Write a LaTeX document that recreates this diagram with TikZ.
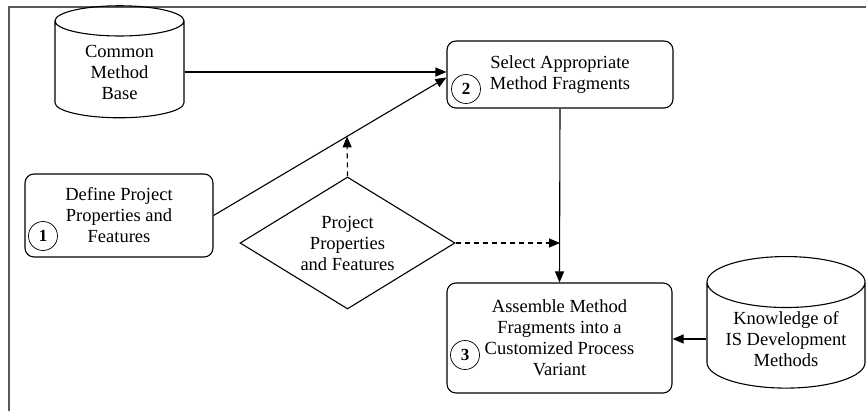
\documentclass[tikz,border=0pt]{standalone}
\usepackage{fontspec}
\setmainfont{Liberation Serif}
\usepackage{tikz}
\usetikzlibrary{positioning}
\usetikzlibrary{calc}
\usetikzlibrary{shapes.geometric}
\usetikzlibrary{arrows.meta}
\tikzset{%
  solidarrow/.style = {-{Triangle[length=11pt,width=9pt]},solid},
  dasharrow/.style = {-{Triangle[length=11pt,width=9pt]},dashed,
        dash pattern=on 5pt off 4pt},
  stepbox/.style = {rectangle,draw,rounded corners=9pt,align=center,
        minimum width=226pt,minimum height=67pt},
  db/.style = {cylinder,draw,shape border rotate=90,aspect=0.4,
        align=center},
  num/.style = {circle,draw,line width=0.7pt,minimum size=29pt,
        inner sep=0pt,font=\fontsize{17}{17}\selectfont\bfseries}
}

\begin{document}
\begin{tikzpicture}[x=1pt,y=-1pt,line width=1.1pt,
  font=\fontsize{18.5}{21}\selectfont]
\useasboundingbox (0,0) rectangle (866,411);
\draw[line width=1.6pt,black!65] (9,411) -- (9,7) -- (866,7);

\node[db,minimum width=129pt,minimum height=112pt] (cmb) at (119.5,72)
    {Common\\Method\\Base};
\node[db,minimum width=158pt,minimum height=126pt] (isk) at (786,339)
    {Knowledge of\\IS Development\\Methods};
\node[stepbox,minimum width=188pt,minimum height=83pt] (define) at (119,215.5)
    {Define Project\\Properties and\\Features};
\node[stepbox] (select) at (560,74.5)
    {Select Appropriate\\Method Fragments};
\node[stepbox,minimum width=225pt,minimum height=110pt] (assemble) at (559.5,338)
    {Assemble Method\\Fragments into a\\Customized Process\\Variant};
\node[diamond,draw,aspect=1.63,inner sep=0pt,minimum width=215pt,
    minimum height=132pt,align=center] (props) at (347.5,243)
    {Project\\Properties\\and Features};

\node[num] (n1) at (43,236) {1};
\node[num] (n2) at (466,89) {2};
\node[num] (n3) at (465,355) {3};

\coordinate (sel in) at ($(select.west)+(0,3)$);
\path (define.east) -- (sel in) coordinate[pos=0.573] (hit);

\draw[solidarrow] (cmb.east) -- (cmb.east -| select.west);
\draw[solidarrow] (define.east) -- (sel in);
\draw[dasharrow] (props.north) -- (hit);
\draw[solidarrow] (select.south) -- (assemble.north);
\draw[dasharrow] (props.east) -- (props.east -| select.south);
\draw[solidarrow] (isk.west) -- (isk.west -| assemble.east);
\end{tikzpicture}
\end{document}
